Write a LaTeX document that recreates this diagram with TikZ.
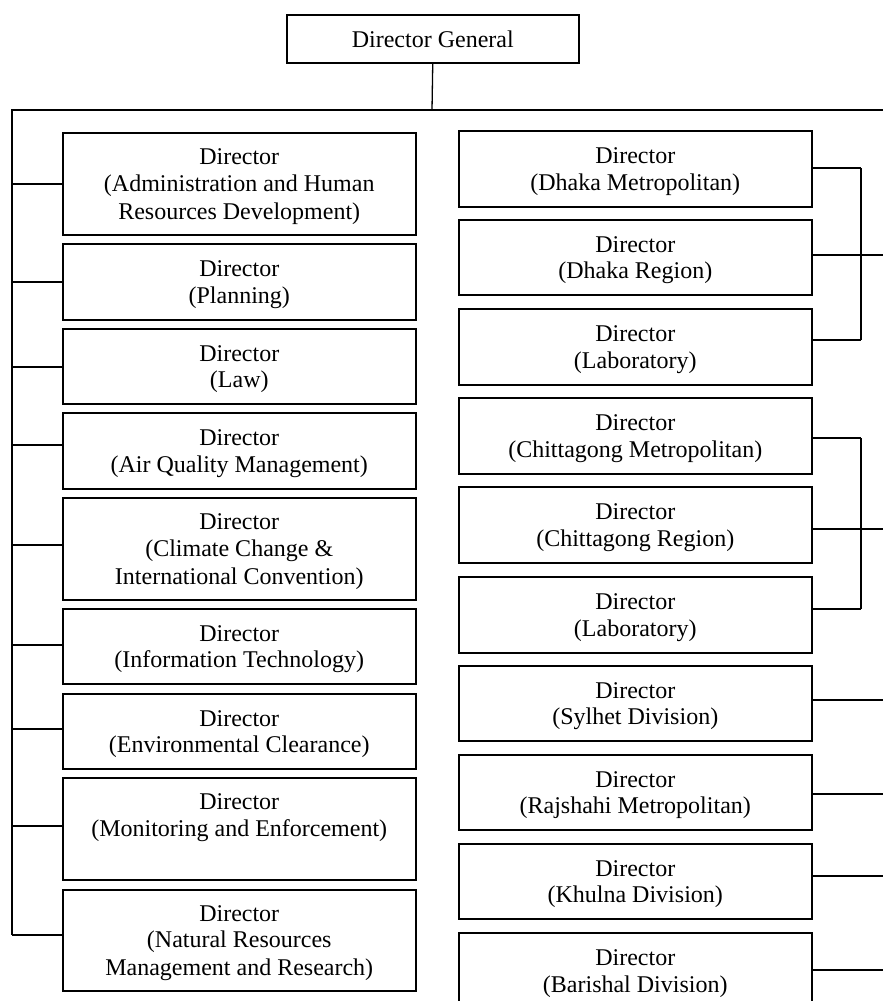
\documentclass[tikz,border=0pt]{standalone}
\usepackage{fontspec}
\setmainfont{Liberation Serif}
\newcommand\Sx{\rule[-5pt]{0pt}{26.6pt}}
\begin{document}
\begin{tikzpicture}[x=1pt,y=-1pt,
  box/.style={draw, line width=1.5pt, inner sep=0pt, minimum width=353pt,
    anchor=north west, align=center, font=\fontsize{24}{26.6}\selectfont},
  ln/.style={line width=1.3pt}]
\useasboundingbox (0,0) rectangle (883,1001);
\clip (0,0) rectangle (883,1001);
\fill[white] (0,0) rectangle (883,1001);

% top
\node[box, minimum width=292pt, minimum height=48pt] (dg) at (286,14) {\Sx Director General\Sx};

% left column
\node[box, minimum height=102pt] (adm) at (62,132) {\Sx Director\\(Administration and Human\\Resources Development)\Sx};
\node[box, minimum height=76pt] (planning) at (62,243) {\Sx Director\\(Planning)\Sx};
\node[box, minimum height=75pt] (law) at (62,328) {\Sx Director\\(Law)\Sx};
\node[box, minimum height=76pt] (air) at (62,412) {\Sx Director\\(Air Quality Management)\Sx};
\node[box, minimum height=102pt] (climate) at (62,497) {\Sx Director\\(Climate Change \&\\International Convention)\Sx};
\node[box, minimum height=75pt] (it) at (62,608) {\Sx Director\\(Information Technology)\Sx};
\node[box, minimum height=75pt] (env) at (62,693) {\Sx Director\\(Environmental Clearance)\Sx};
\node[box, minimum height=102pt] (mon) at (62,777) {\Sx Director\\(Monitoring and Enforcement)\\\Sx};
\node[box, minimum height=101pt] (nat) at (62,889) {\Sx Director\\(Natural Resources\\Management and Research)\Sx};

% right column
\node[box, minimum height=76pt] (dm) at (458,130) {\Sx Director\\(Dhaka Metropolitan)\Sx};
\node[box, minimum height=75pt] (dr) at (458,219) {\Sx Director\\(Dhaka Region)\Sx};
\node[box, minimum height=76pt] (lab1) at (458,308) {\Sx Director\\(Laboratory)\Sx};
\node[box, minimum height=76pt] (cm) at (458,397) {\Sx Director\\(Chittagong Metropolitan)\Sx};
\node[box, minimum height=76pt] (cr) at (458,486) {\Sx Director\\(Chittagong Region)\Sx};
\node[box, minimum height=76pt] (lab2) at (458,576) {\Sx Director\\(Laboratory)\Sx};
\node[box, minimum height=75pt] (syl) at (458,665) {\Sx Director\\(Sylhet Division)\Sx};
\node[box, minimum height=75pt] (raj) at (458,754) {\Sx Director\\(Rajshahi Metropolitan)\Sx};
\node[box, minimum height=75pt] (khu) at (458,843) {\Sx Director\\(Khulna Division)\Sx};
\node[box, minimum height=76pt] (bar) at (458,932) {\Sx Director\\(Barishal Division)\Sx};

% bus and trunk
\coordinate (bus) at (432,110);
\coordinate (busL) at (12,110);
\coordinate (busR) at (883,110);
\coordinate (trunkEnd) at (12,935);
\draw[ln] (dg.south) -- (bus);
\draw[ln] (busR) -- (busL) -- (trunkEnd);

% left branches
\foreach \n/\y in {adm/184, planning/282, law/367, air/445, climate/545, it/645, env/729, mon/826, nat/935}{
  \coordinate (t\n) at (12,\y);
  \draw[ln] (t\n) -- (t\n -| \n.west);
}

% right brackets
\foreach \n/\y in {dm/168, dr/255, lab1/340, cm/438, cr/529, lab2/609}{
  \coordinate (r\n) at (861,\y);
  \draw[ln] (r\n -| \n.east) -- (r\n);
}
\draw[ln] (rdm) -- (rlab1);
\draw[ln] (rcm) -- (rlab2);
\coordinate (edr) at (883,255);
\coordinate (ecr) at (883,529);
\draw[ln] (rdr) -- (edr);
\draw[ln] (rcr) -- (ecr);

% right single branches
\foreach \n/\y in {syl/700, raj/794, khu/876, bar/970}{
  \coordinate (e\n) at (883,\y);
  \draw[ln] (e\n -| \n.east) -- (e\n);
}
\end{tikzpicture}
\end{document}
